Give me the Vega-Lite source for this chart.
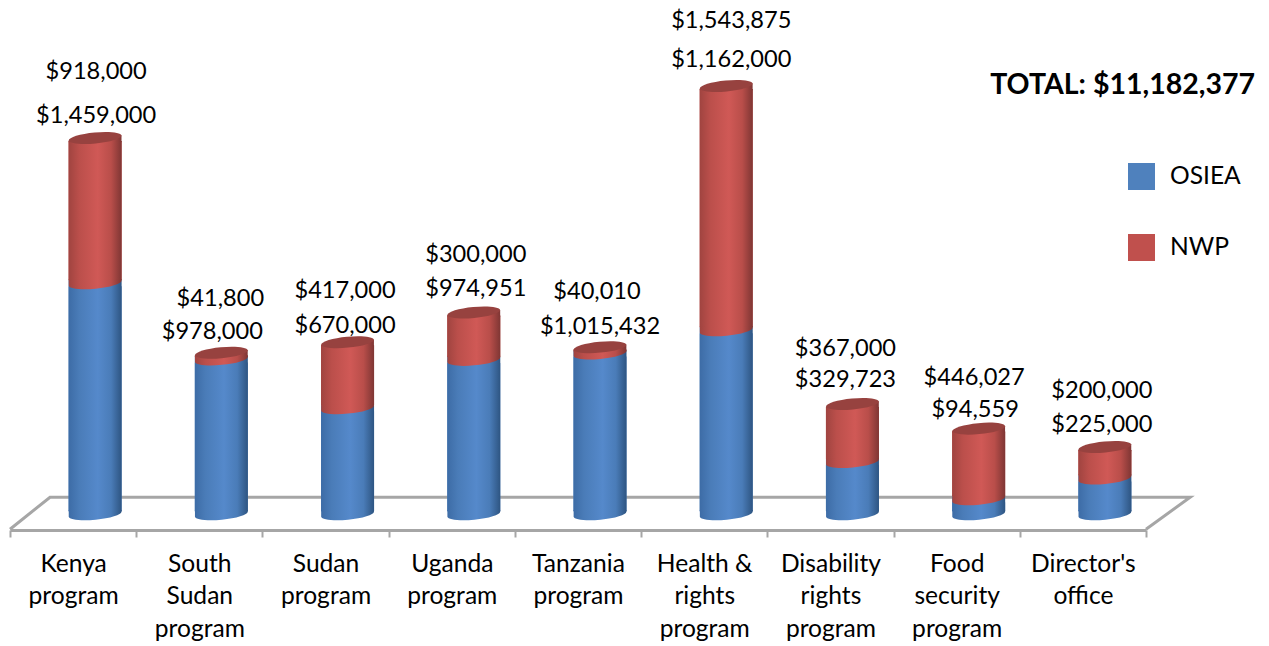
{
"$schema":"https://vega.github.io/schema/vega-lite/v6.json",
"width":1136,"height":530,
"autosize":{"type":"none"},
"padding":{"left":10,"top":0,"right":123,"bottom":116},
"background":"white",
"title":{"text":"TOTAL: $11,182,377","anchor":"end","frame":"group","orient":"top","offset":0,"dx":109,"dy":99,"fontSize":28.5,"fontWeight":"bold","font":"Lato","color":"#000000"},
"config":{"view":{"stroke":null},"text":{"font":"Lato","fontSize":23.6,"color":"#000000"}},
"datasets":{
"funds":[
{"program":"Kenya program","series":"OSIEA","value":1459000},
{"program":"Kenya program","series":"NWP","value":918000},
{"program":"South Sudan program","series":"OSIEA","value":978000},
{"program":"South Sudan program","series":"NWP","value":41800},
{"program":"Sudan program","series":"OSIEA","value":670000},
{"program":"Sudan program","series":"NWP","value":417000},
{"program":"Uganda program","series":"OSIEA","value":974951},
{"program":"Uganda program","series":"NWP","value":300000},
{"program":"Tanzania program","series":"OSIEA","value":1015432},
{"program":"Tanzania program","series":"NWP","value":40010},
{"program":"Health & rights program","series":"OSIEA","value":1162000},
{"program":"Health & rights program","series":"NWP","value":1543875},
{"program":"Disability rights program","series":"OSIEA","value":329723},
{"program":"Disability rights program","series":"NWP","value":367000},
{"program":"Food security program","series":"OSIEA","value":94559},
{"program":"Food security program","series":"NWP","value":446027},
{"program":"Director's office","series":"OSIEA","value":225000},
{"program":"Director's office","series":"NWP","value":200000}
],
"floor":[
{"depth":0,"amount":-95000,"step":1},
{"depth":0.317,"amount":107000,"step":2},
{"depth":9.35,"amount":107000,"step":3},
{"depth":9,"amount":-95000,"step":4}
]},
"layer":[
{"data":{"name":"floor"},
 "mark":{"type":"line","stroke":"#a6a6a6","strokeWidth":3,"strokeJoin":"miter"},
 "encoding":{
  "x":{"field":"depth","type":"quantitative","scale":{"domain":[0,9],"nice":false,"zero":false},"axis":null},
  "y":{"field":"amount","type":"quantitative","scale":{"domain":[-100000,3249000],"nice":false,"zero":false},"axis":null},
  "order":{"field":"step","type":"quantitative"}}},
{"data":{"name":"funds"},
 "transform":[
  {"stack":"value","groupby":["program"],"sort":[{"field":"series","order":"descending"}],"as":["low","high"]},
  {"joinaggregate":[{"op":"sum","field":"value","as":"total"}],"groupby":["program"]}],
 "encoding":{
  "x":{"field":"program","type":"nominal","sort":null,"title":null,"scale":{"paddingInner":0,"paddingOuter":0},
    "axis":{"domain":true,"domainColor":"#a6a6a6","domainWidth":3,"ticks":true,"tickBand":"extent","tickOpacity":1,"tickColor":"#a6a6a6","tickWidth":2,"tickSize":7,"labelAngle":0,"labelFont":"Lato","labelFontSize":24.6,"labelColor":"#000000","labelLimit":0,"labelLineHeight":32.5,"labelPadding":15,"labelOffset":0,"labelExpr":"split(replace(datum.label,' & ','\u00a0& '),' ')"}}
 },
 "layer":[
  {"mark":{"type":"bar","width":53,"xOffset":22,"yOffset":3,"y2Offset":-3},
   "encoding":{"y":{"field":"high","type":"quantitative","title":null},"y2":{"field":"low"},
    "color":{"field":"series","type":"nominal","scale":{"domain":["OSIEA","NWP"],"range":["#4f81bd","#c0504d"]},
     "legend":{"title":null,"orient":"none","legendX":1118,"legendY":163,"symbolType":"square","symbolSize":729,"symbolStrokeWidth":0,"symbolOpacity":1,"rowPadding":44,"labelFont":"Lato","labelFontSize":24.6,"labelColor":"#000000","labelOffset":15,"values":["OSIEA","NWP"]}}}},
  {"transform":[{"filter":"datum.series==='OSIEA'"}],"mark":{"type":"point","filled":true,"opacity":1,"size":2809,"xOffset":22,"shape":"M-0.9955 0.094 A1 0.21 -5.4 0 0 0.9955 -0.094 L0.9955 -0.16 L-0.9955 -0.16 Z",
    "fill":{"gradient":"linear","x1":0,"x2":1,"y1":0,"y2":0,"stops":[{"offset":0,"color":"#3d6ca6"},{"offset":0.2,"color":"#4a7cb8"},{"offset":0.55,"color":"#5589cb"},{"offset":0.8,"color":"#4a7cb8"},{"offset":1,"color":"#2e5582"}]}},
   "encoding":{"y":{"field":"low","type":"quantitative"}}},
  {"transform":[{"filter":"datum.series==='OSIEA'"}],"mark":{"type":"bar","width":53,"xOffset":22,"yOffset":-3,"y2Offset":-3,
    "fill":{"gradient":"linear","x1":0,"x2":1,"y1":0,"y2":0,"stops":[{"offset":0,"color":"#3d6ca6"},{"offset":0.2,"color":"#4a7cb8"},{"offset":0.55,"color":"#5589cb"},{"offset":0.8,"color":"#4a7cb8"},{"offset":1,"color":"#2e5582"}]}},
   "encoding":{"y":{"field":"high","type":"quantitative"},"y2":{"field":"low"}}},
  {"transform":[{"filter":"datum.series==='NWP'"}],"mark":{"type":"bar","width":53,"xOffset":22,"yOffset":3,"y2Offset":-3,
    "fill":{"gradient":"linear","x1":0,"x2":1,"y1":0,"y2":0,"stops":[{"offset":0,"color":"#a04440"},{"offset":0.2,"color":"#bb4f4b"},{"offset":0.55,"color":"#d05956"},{"offset":0.8,"color":"#b94e4a"},{"offset":1,"color":"#7f3634"}]}},
   "encoding":{"y":{"field":"high","type":"quantitative"},"y2":{"field":"low"}}},
  {"transform":[{"filter":"datum.series==='NWP'"}],"mark":{"type":"point","filled":true,"opacity":1,"size":2809,"xOffset":22,"shape":"M-0.9955 0.094 A1 0.21 -5.4 0 0 0.9955 -0.094 L0.9955 -0.16 L-0.9955 -0.16 Z",
    "fill":{"gradient":"linear","x1":0,"x2":1,"y1":0,"y2":0,"stops":[{"offset":0,"color":"#a04440"},{"offset":0.2,"color":"#bb4f4b"},{"offset":0.55,"color":"#d05956"},{"offset":0.8,"color":"#b94e4a"},{"offset":1,"color":"#7f3634"}]}},
   "encoding":{"y":{"field":"low","type":"quantitative"}}},
  {"transform":[{"filter":"datum.series==='NWP'"}],"mark":{"type":"point","filled":true,"opacity":1,"size":2809,"xOffset":22,"shape":"M-0.9955 0.094 L0.9955 -0.094 L0.9955 0.16 L-0.9955 0.16 Z",
    "fill":{"gradient":"linear","x1":0,"x2":1,"y1":0,"y2":0,"stops":[{"offset":0,"color":"#a04440"},{"offset":0.2,"color":"#bb4f4b"},{"offset":0.55,"color":"#d05956"},{"offset":0.8,"color":"#b94e4a"},{"offset":1,"color":"#7f3634"}]}},
   "encoding":{"y":{"field":"high","type":"quantitative"}}},
  {"transform":[{"filter":"datum.series==='NWP'"}],"mark":{"type":"point","filled":true,"opacity":1,"size":2809,"xOffset":22,"fill":"#97423f","shape":"M-0.9955 0.094 A1 0.21 -5.4 0 1 0.9955 -0.094 A1 0.21 -5.4 0 1 -0.9955 0.094 Z"},
   "encoding":{"y":{"field":"high","type":"quantitative"}}},
  {"transform":[{"filter":"datum.program==='Kenya program'"}],"layer":[
    {"transform":[{"filter":"datum.series==='NWP'"}],"mark":{"type":"text","dx":23,"dy":-66},"encoding":{"y":{"field":"total","type":"quantitative"},"text":{"field":"value","type":"quantitative","format":"$,.0f"}}},
    {"transform":[{"filter":"datum.series==='OSIEA'"}],"mark":{"type":"text","dx":23,"dy":-22},"encoding":{"y":{"field":"total","type":"quantitative"},"text":{"field":"value","type":"quantitative","format":"$,.0f"}}}]},
  {"transform":[{"filter":"datum.program==='South Sudan program'"}],"layer":[
    {"transform":[{"filter":"datum.series==='NWP'"}],"mark":{"type":"text","dx":21,"dy":-54},"encoding":{"y":{"field":"total","type":"quantitative"},"text":{"field":"value","type":"quantitative","format":"$,.0f"}}},
    {"transform":[{"filter":"datum.series==='OSIEA'"}],"mark":{"type":"text","dx":13,"dy":-21},"encoding":{"y":{"field":"total","type":"quantitative"},"text":{"field":"value","type":"quantitative","format":"$,.0f"}}}]},
  {"transform":[{"filter":"datum.program==='Sudan program'"}],"layer":[
    {"transform":[{"filter":"datum.series==='NWP'"}],"mark":{"type":"text","dx":19.5,"dy":-51},"encoding":{"y":{"field":"total","type":"quantitative"},"text":{"field":"value","type":"quantitative","format":"$,.0f"}}},
    {"transform":[{"filter":"datum.series==='OSIEA'"}],"mark":{"type":"text","dx":19.5,"dy":-16},"encoding":{"y":{"field":"total","type":"quantitative"},"text":{"field":"value","type":"quantitative","format":"$,.0f"}}}]},
  {"transform":[{"filter":"datum.program==='Uganda program'"}],"layer":[
    {"transform":[{"filter":"datum.series==='NWP'"}],"mark":{"type":"text","dx":24,"dy":-57},"encoding":{"y":{"field":"total","type":"quantitative"},"text":{"field":"value","type":"quantitative","format":"$,.0f"}}},
    {"transform":[{"filter":"datum.series==='OSIEA'"}],"mark":{"type":"text","dx":24,"dy":-23},"encoding":{"y":{"field":"total","type":"quantitative"},"text":{"field":"value","type":"quantitative","format":"$,.0f"}}}]},
  {"transform":[{"filter":"datum.program==='Tanzania program'"}],"layer":[
    {"transform":[{"filter":"datum.series==='NWP'"}],"mark":{"type":"text","dx":19,"dy":-55},"encoding":{"y":{"field":"total","type":"quantitative"},"text":{"field":"value","type":"quantitative","format":"$,.0f"}}},
    {"transform":[{"filter":"datum.series==='OSIEA'"}],"mark":{"type":"text","dx":22,"dy":-20},"encoding":{"y":{"field":"total","type":"quantitative"},"text":{"field":"value","type":"quantitative","format":"$,.0f"}}}]},
  {"transform":[{"filter":"datum.program==='Health & rights program'"}],"layer":[
    {"transform":[{"filter":"datum.series==='NWP'"}],"mark":{"type":"text","dx":27,"dy":-65},"encoding":{"y":{"field":"total","type":"quantitative"},"text":{"field":"value","type":"quantitative","format":"$,.0f"}}},
    {"transform":[{"filter":"datum.series==='OSIEA'"}],"mark":{"type":"text","dx":27,"dy":-26},"encoding":{"y":{"field":"total","type":"quantitative"},"text":{"field":"value","type":"quantitative","format":"$,.0f"}}}]},
  {"transform":[{"filter":"datum.program==='Disability rights program'"}],"layer":[
    {"transform":[{"filter":"datum.series==='NWP'"}],"mark":{"type":"text","dx":15,"dy":-55},"encoding":{"y":{"field":"total","type":"quantitative"},"text":{"field":"value","type":"quantitative","format":"$,.0f"}}},
    {"transform":[{"filter":"datum.series==='OSIEA'"}],"mark":{"type":"text","dx":15,"dy":-24},"encoding":{"y":{"field":"total","type":"quantitative"},"text":{"field":"value","type":"quantitative","format":"$,.0f"}}}]},
  {"transform":[{"filter":"datum.program==='Food security program'"}],"layer":[
    {"transform":[{"filter":"datum.series==='NWP'"}],"mark":{"type":"text","dx":17.5,"dy":-51},"encoding":{"y":{"field":"total","type":"quantitative"},"text":{"field":"value","type":"quantitative","format":"$,.0f"}}},
    {"transform":[{"filter":"datum.series==='OSIEA'"}],"mark":{"type":"text","dx":18.5,"dy":-19},"encoding":{"y":{"field":"total","type":"quantitative"},"text":{"field":"value","type":"quantitative","format":"$,.0f"}}}]},
  {"transform":[{"filter":"datum.program===\"Director's office\""}],"layer":[
    {"transform":[{"filter":"datum.series==='NWP'"}],"mark":{"type":"text","dx":19,"dy":-56},"encoding":{"y":{"field":"total","type":"quantitative"},"text":{"field":"value","type":"quantitative","format":"$,.0f"}}},
    {"transform":[{"filter":"datum.series==='OSIEA'"}],"mark":{"type":"text","dx":19,"dy":-22},"encoding":{"y":{"field":"total","type":"quantitative"},"text":{"field":"value","type":"quantitative","format":"$,.0f"}}}]}
 ]}
],
"resolve":{"scale":{"x":"independent"}}
}
